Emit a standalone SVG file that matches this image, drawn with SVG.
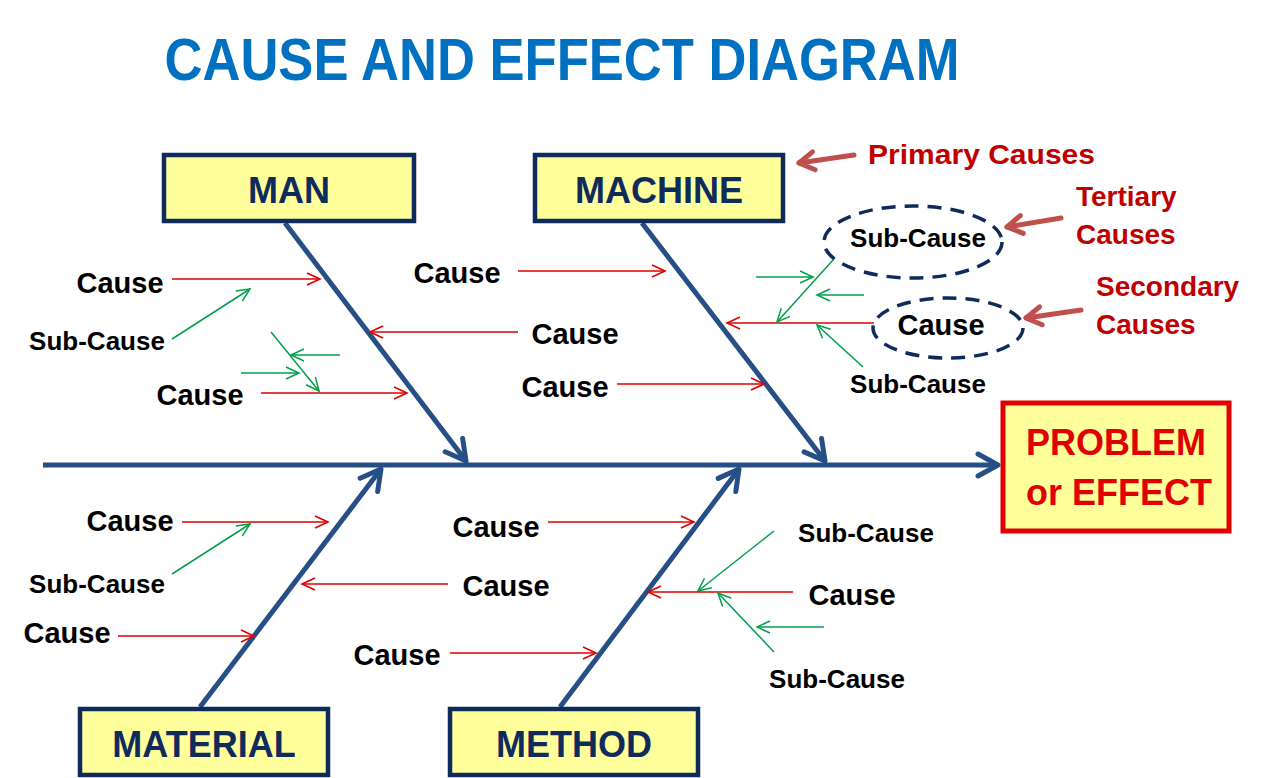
<svg xmlns="http://www.w3.org/2000/svg" width="1280" height="778" viewBox="0 0 1280 778">
<style>
.t{font-family:"Liberation Sans",Arial,sans-serif;font-weight:bold;text-anchor:middle}
.c{font-size:29px;fill:#000}
.s{font-size:26px;fill:#000}
.lbl{font-size:36px;fill:#0F2B5C}
.box{fill:#FFFF9C;stroke:#0F2B5C;stroke-width:4.5}
.note{font-size:28px;fill:#C00000;text-anchor:start}
.bone{stroke:#264F85;stroke-width:5;fill:none;marker-end:url(#mb)}
.r{stroke:#E00000;stroke-width:1.6;fill:none;marker-end:url(#mr)}
.g{stroke:#00A04A;stroke-width:1.5;fill:none;marker-end:url(#mg)}
.a{stroke:#C0504D;stroke-width:5;fill:none;stroke-linecap:round;marker-end:url(#ma)}
.ell{fill:none;stroke:#0F2B5C;stroke-width:3.5;stroke-dasharray:14 9}
</style>
<defs>
<marker id="mr" markerUnits="userSpaceOnUse" orient="auto" refX="0" refY="0" markerWidth="20" markerHeight="20" overflow="visible"><path d="M-13,-6 L0,0 L-13,6" fill="none" stroke="#E00000" stroke-width="1.6"/></marker>
<marker id="mg" markerUnits="userSpaceOnUse" orient="auto" refX="0" refY="0" markerWidth="20" markerHeight="20" overflow="visible"><path d="M-13,-6 L0,0 L-13,6" fill="none" stroke="#00A04A" stroke-width="1.5"/></marker>
<marker id="mb" markerUnits="userSpaceOnUse" orient="auto" refX="0" refY="0" markerWidth="30" markerHeight="30" overflow="visible"><path d="M-20,-11 L0,0 L-20,11" fill="none" stroke="#264F85" stroke-width="5" stroke-linecap="round" stroke-linejoin="round"/></marker>
<marker id="ma" markerUnits="userSpaceOnUse" orient="auto" refX="0" refY="0" markerWidth="30" markerHeight="30" overflow="visible"><path d="M-15,-9 L0,0 L-15,9" fill="none" stroke="#C0504D" stroke-width="5" stroke-linecap="round" stroke-linejoin="round"/></marker>
</defs>
<rect width="1280" height="778" fill="#fff"/>
<text class="t" x="562" y="80" font-size="60" fill="#0070C0" textLength="795" lengthAdjust="spacingAndGlyphs">CAUSE AND EFFECT DIAGRAM</text>

<g id="connectors">
<line class="bone" x1="43" y1="465" x2="998" y2="465"/>
<line class="bone" x1="285" y1="223" x2="466" y2="461"/>
<line class="bone" x1="642" y1="223" x2="825" y2="461"/>
<line class="bone" x1="200" y1="707" x2="381" y2="469"/>
<line class="bone" x1="560" y1="707" x2="739" y2="469"/>
<line class="r" x1="172" y1="279" x2="320" y2="279"/>
<line class="g" x1="172" y1="339" x2="250" y2="289"/>
<line class="r" x1="518" y1="332" x2="370" y2="332"/>
<line class="g" x1="271" y1="332" x2="319" y2="391"/>
<line class="g" x1="340" y1="355" x2="291" y2="355"/>
<line class="g" x1="241" y1="373" x2="299" y2="373"/>
<line class="r" x1="261" y1="393" x2="407" y2="393"/>
<line class="r" x1="518" y1="271" x2="665" y2="271"/>
<line class="r" x1="874" y1="323" x2="727" y2="323"/>
<line class="r" x1="617" y1="384" x2="764" y2="384"/>
<line class="g" x1="833" y1="260" x2="777" y2="322"/>
<line class="g" x1="756" y1="277" x2="813" y2="277"/>
<line class="g" x1="864" y1="295" x2="817" y2="295"/>
<line class="g" x1="863" y1="367" x2="817" y2="325"/>
<line class="r" x1="182" y1="522" x2="328" y2="522"/>
<line class="g" x1="172" y1="574" x2="250" y2="524"/>
<line class="r" x1="448" y1="584" x2="302" y2="584"/>
<line class="r" x1="118" y1="636" x2="254" y2="636"/>
<line class="r" x1="548" y1="522" x2="694" y2="522"/>
<line class="r" x1="450" y1="653" x2="596" y2="653"/>
<line class="g" x1="774" y1="531" x2="698" y2="591"/>
<line class="r" x1="793" y1="592" x2="648" y2="592"/>
<line class="g" x1="774" y1="652" x2="718" y2="593"/>
<line class="g" x1="824" y1="627" x2="757" y2="627"/>
<line class="a" x1="854" y1="155" x2="799" y2="163"/>
<line class="a" x1="1061" y1="218" x2="1007" y2="227"/>
<line class="a" x1="1081" y1="310" x2="1026" y2="318"/>
</g>

<g id="man"><rect class="box" x="164" y="155" width="250" height="66"/><text class="t lbl" x="289" y="203">MAN</text></g>
<g id="machine"><rect class="box" x="535" y="155" width="248" height="66"/><text class="t lbl" x="659" y="203">MACHINE</text></g>
<g id="material"><rect class="box" x="80" y="709" width="248" height="66"/><text class="t lbl" x="204" y="757">MATERIAL</text></g>
<g id="method"><rect class="box" x="450" y="709" width="248" height="66"/><text class="t lbl" x="574" y="757">METHOD</text></g>
<g id="problem"><rect x="1003" y="403" width="226" height="128" fill="#FFFF9C" stroke="#E00000" stroke-width="5"/><text class="t" x="1116" y="455" font-size="36" fill="#E00000">PROBLEM</text><text class="t" x="1119" y="505" font-size="36" fill="#E00000">or EFFECT</text></g>

<g id="man-causes">
<text class="t c" x="120" y="293">Cause</text>
<text class="t s" x="97" y="350">Sub-Cause</text>
<text class="t c" x="200" y="405">Cause</text>
<text class="t c" x="575" y="344">Cause</text>
</g>
<g id="machine-causes">
<text class="t c" x="457" y="283">Cause</text>
<text class="t c" x="565" y="397">Cause</text>
<ellipse class="ell" cx="913" cy="242" rx="89" ry="36"/>
<text class="t s" x="918" y="247">Sub-Cause</text>
<ellipse class="ell" cx="948" cy="328" rx="75" ry="30"/>
<text class="t c" x="941" y="335">Cause</text>
<text class="t s" x="918" y="393">Sub-Cause</text>
</g>
<g id="material-causes">
<text class="t c" x="130" y="531">Cause</text>
<text class="t s" x="97" y="593">Sub-Cause</text>
<text class="t c" x="67" y="643">Cause</text>
<text class="t c" x="506" y="596">Cause</text>
</g>
<g id="method-causes">
<text class="t c" x="496" y="537">Cause</text>
<text class="t c" x="397" y="665">Cause</text>
<text class="t s" x="866" y="542">Sub-Cause</text>
<text class="t c" x="852" y="605">Cause</text>
<text class="t s" x="837" y="688">Sub-Cause</text>
</g>
<g id="notes">
<text class="t note" x="868" y="164" textLength="227" lengthAdjust="spacingAndGlyphs">Primary Causes</text>
<text class="t note" x="1076" y="206">Tertiary</text>
<text class="t note" x="1076" y="244">Causes</text>
<text class="t note" x="1096" y="296">Secondary</text>
<text class="t note" x="1096" y="334">Causes</text>
</g>
</svg>
